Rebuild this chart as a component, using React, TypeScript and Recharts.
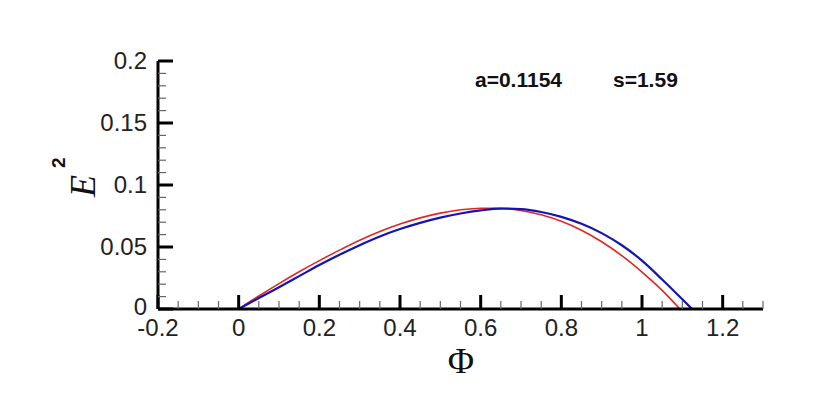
import { LineChart, Line, XAxis, YAxis } from 'recharts';

// values
const phiRed = [0, 0.05, 0.1, 0.15, 0.2, 0.25, 0.3, 0.35, 0.4, 0.45, 0.5, 0.55, 0.6, 0.65, 0.7, 0.75, 0.8, 0.85, 0.9, 0.95, 1.0, 1.05, 1.094];
const e2Red = [0, 0.0105, 0.0205, 0.03, 0.039, 0.0475, 0.0555, 0.0625, 0.0685, 0.0735, 0.0773, 0.08, 0.0813, 0.0812, 0.0795, 0.076, 0.0707, 0.0635, 0.0542, 0.043, 0.0298, 0.015, 0];

const phiBlue = [0, 0.05, 0.1, 0.15, 0.2, 0.25, 0.3, 0.35, 0.4, 0.45, 0.5, 0.55, 0.6, 0.65, 0.7, 0.75, 0.8, 0.85, 0.9, 0.95, 1.0, 1.05, 1.1, 1.124];
const e2Blue = [0, 0.0088, 0.0175, 0.0265, 0.0355, 0.0438, 0.0515, 0.0585, 0.0645, 0.0695, 0.0737, 0.077, 0.0795, 0.081, 0.0805, 0.0782, 0.0743, 0.0687, 0.0612, 0.0514, 0.039, 0.0238, 0.0078, 0];

const xTicks = [-0.2, -0.15, -0.1, -0.05, 0, 0.05, 0.1, 0.15, 0.2, 0.25, 0.3, 0.35, 0.4, 0.45, 0.5, 0.55, 0.6, 0.65, 0.7, 0.75, 0.8, 0.85, 0.9, 0.95, 1, 1.05, 1.1, 1.15, 1.2, 1.25, 1.3];
const xMajor = [-0.2, 0, 0.2, 0.4, 0.6, 0.8, 1, 1.2];
const yTicks = [0, 0.01, 0.02, 0.03, 0.04, 0.05, 0.06, 0.07, 0.08, 0.09, 0.1, 0.11, 0.12, 0.13, 0.14, 0.15, 0.16, 0.17, 0.18, 0.19, 0.2];
const yMajor = [0, 0.05, 0.1, 0.15, 0.2];

const redData = phiRed.map((x, i) => ({ x, y: e2Red[i] }));
const blueData = phiBlue.map((x, i) => ({ x, y: e2Blue[i] }));

const W = 820;
const H = 404;
const FONT = '"Liberation Sans", Arial, sans-serif';

const isMajor = (v: number, list: number[]) => list.some((m) => Math.abs(m - v) < 1e-9);

function XTick(props: any) {
  const { x, y, payload } = props;
  const v = payload.value;
  const major = isMajor(v, xMajor);
  return (
    <g>
      <line x1={x} y1={y} x2={x} y2={y - (major ? 14 : 8)} stroke={major ? '#000' : '#666'} strokeWidth={major ? 3 : 1.2} />
      {major && (
        <text x={x} y={y + 27} textAnchor="middle" fontFamily={FONT} fontSize={24} fill="#222">
          {String(v)}
        </text>
      )}
    </g>
  );
}

function YTick(props: any) {
  const { x, y, payload } = props;
  const v = payload.value;
  const major = isMajor(v, yMajor);
  return (
    <g>
      <line x1={x} y1={y} x2={x + (major ? 15 : 8)} y2={y} stroke={major ? '#000' : '#666'} strokeWidth={major ? 3 : 1.2} />
      {major && (
        <text x={x - 11} y={v === 0 ? y + 6 : y + 8} textAnchor="end" fontFamily={FONT} fontSize={24} fill="#222">
          {String(v)}
        </text>
      )}
    </g>
  );
}

export default function App() {
  return (
    <div style={{ position: 'relative', width: W, height: H, background: '#fff' }}>
      <LineChart width={W} height={H} margin={{ top: 53, right: 65, bottom: 63, left: 0 }}>
        <XAxis
          dataKey="x"
          type="number"
          domain={[-0.2, 1.3]}
          ticks={xTicks}
          interval={0}
          height={40}
          tickSize={0}
          tickMargin={0}
          tickLine={false}
          axisLine={{ stroke: '#000', strokeWidth: 3 }}
          tick={<XTick />}
          allowDecimals
        />
        <YAxis
          dataKey="y"
          type="number"
          domain={[0, 0.2]}
          ticks={yTicks}
          interval={0}
          width={150}
          tickSize={0}
          tickMargin={0}
          tickLine={false}
          axisLine={{ stroke: '#000', strokeWidth: 3 }}
          tick={<YTick />}
        />
        <Line data={redData} dataKey="y" type="monotone" stroke="#e42525" strokeWidth={1.6} dot={false} isAnimationActive={false} />
        <Line data={blueData} dataKey="y" type="monotone" stroke="#1414b4" strokeWidth={2.2} dot={false} isAnimationActive={false} />
      </LineChart>
      <svg width={W} height={H} style={{ position: 'absolute', left: 0, top: 0, pointerEvents: 'none' }}>
        <text x={467} y={79} fontFamily={FONT} fontWeight="bold" fontSize={21} fill="#111">a=0.1154</text>
        <text x={605} y={79} fontFamily={FONT} fontWeight="bold" fontSize={21} fill="#111">s=1.59</text>
        <text x={453} y={365} textAnchor="middle" fontFamily='"Liberation Serif", "DejaVu Serif", serif' fontSize={36} fill="#111">Φ</text>
        <g transform="translate(87,189) rotate(-90)">
          <text x={0} y={0} fontFamily='"Liberation Serif", serif' fontStyle="italic" fontSize={36} fill="#111">
            E
            <tspan dx={7} dy={-30} fontFamily={FONT} fontStyle="normal" fontWeight="bold" fontSize={19}>2</tspan>
          </text>
        </g>
      </svg>
    </div>
  );
}
